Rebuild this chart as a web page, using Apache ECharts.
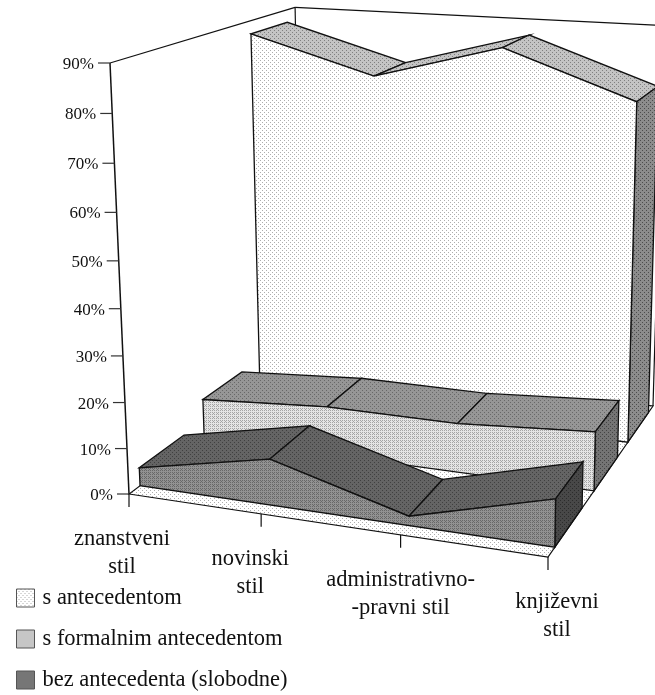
<!DOCTYPE html>
<html><head><meta charset="utf-8">
<style>html,body{margin:0;padding:0;background:#fff}#c{width:655px;height:695px}</style>
<script src="https://cdn.jsdelivr.net/npm/echarts@6/dist/echarts.min.js"></script>
</head><body><div id="c"></div>
<script>
var categories = ['znanstveni\nstil','novinski\nstil','administrativno-\n-pravni stil','književni\nstil'];
var valueTicks = [0,10,20,30,40,50,60,70,80,90];
var seriesNames = ['s antecedentom','s formalnim antecedentom','bez antecedenta (slobodne)'];
var antecedent = [87,79,87,77];
var formal = [9,11,11,13];
var free = [4,10,2,10];

// camera: screen positions of the plot box corners
var O=[129,494],A=[548,557],B=[110,63],C=[302,364],D=[653,406],E=[295,7];
var PIX=100;
function solveCam(){
  var a1=A[0]-D[0],b1=C[0]-D[0],c1=D[0]+O[0]-A[0]-C[0],a2=A[1]-D[1],b2=C[1]-D[1],c2=D[1]+O[1]-A[1]-C[1];
  var det=a1*b2-a2*b1, wa=(c1*b2-c2*b1)/det, wc=(a1*c2-a2*c1)/det;
  var rx=E[0]+O[0]-B[0]-C[0]-wc*(C[0]-E[0]), ry=E[1]+O[1]-B[1]-C[1]-wc*(C[1]-E[1]);
  var bx=B[0]-E[0], by=B[1]-E[1];
  var wb=(rx*bx+ry*by)/(bx*bx+by*by);
  return {wa:wa,wb:wb,wc:wc};
}
var cam=solveCam();
function proj(api,cat,val,z){
  var p=api.coord([cat,val]);
  var x=p[0]/PIX, y=(PIX-p[1])/PIX;
  var w=1+cam.wa*x+cam.wb*y+cam.wc*z;
  var fa=x*(1+cam.wa), fb=y*(1+cam.wb), fc=z*(1+cam.wc), f0=1-x-y-z;
  return [(f0*O[0]+fa*A[0]+fb*B[0]+fc*C[0])/w,(f0*O[1]+fa*A[1]+fb*B[1]+fc*C[1])/w];
}
function pat(bg,dot,size,cells){
  var c=document.createElement('canvas');c.width=c.height=size;
  var g=c.getContext('2d');g.fillStyle=bg;g.fillRect(0,0,size,size);g.fillStyle=dot;
  cells.forEach(function(k){g.fillRect(k[0],k[1],1,1);});
  return {image:c,repeat:'repeat'};
}
function P4(bg,dot){return pat(bg,dot,4,[[0,0],[2,2]]);}
function W4(bg,dot){return pat(bg,dot,4,[[0,0],[2,0],[0,2],[2,2],[1,1]]);}
function P2(bg,dot){return pat(bg,dot,2,[[0,0],[1,1]]);}
var fills=[
 {front:P4('#ffffff','#adadad'),top:P4('#c4c4c4','#808080'),side:P4('#8c8c8c','#4c4c4c')},
 {front:W4('#e4e4e4','#a4a4a4'),top:P4('#969696','#686868'),side:P4('#747474','#444444')},
 {front:W4('#929292','#686868'),top:P4('#646464','#404040'),side:P4('#484848','#2c2c2c')}
];
var legendFill=[P4('#ffffff','#adadad'),P2('#dcdcdc','#b0b0b0'),P2('#8c8c8c','#606060')];
var zRange=[[0.72,0.947],[0.387,0.613],[0.053,0.28]];
var LINE='#111';
function poly(pts,fill,lw){return {type:'polygon',shape:{points:pts},style:{fill:fill,stroke:LINE,lineWidth:lw||1}};}
function seg(a,b,col,lw){return {type:'line',shape:{x1:a[0],y1:a[1],x2:b[0],y2:b[1]},style:{stroke:col||LINE,lineWidth:lw||1}};}

function renderSeries(idx,vals){
  return function(params,api){
    if(params.dataIndex!==0) return null;
    var z0=zRange[idx][0],z1=zRange[idx][1],kids=[],f=fills[idx],n=vals.length,i;
    for(i=0;i<n-1;i++){
      kids.push(poly([proj(api,i,vals[i],z0),proj(api,i+1,vals[i+1],z0),proj(api,i+1,vals[i+1],z1),proj(api,i,vals[i],z1)],f.top,1.3));
    }
    kids.push(poly([proj(api,n-1,0,z0),proj(api,n-1,vals[n-1],z0),proj(api,n-1,vals[n-1],z1),proj(api,n-1,0,z1)],f.side,1.3));
    var fp=[proj(api,0,0,z0)];
    for(i=0;i<n;i++) fp.push(proj(api,i,vals[i],z0));
    fp.push(proj(api,n-1,0,z0));
    kids.push(poly(fp,f.front,1.3));
    return {type:'group',children:kids};
  };
}
var xLabelOffset=[[-7,31],[-11,31],[0,31],[9,31]];
function renderFrame(params,api){
  if(params.dataIndex!==0) return null;
  var last=categories.length-1,top=valueTicks[valueTicks.length-1],kids=[];
  kids.push(seg(proj(api,0,top,0),proj(api,0,top,1),LINE,1.2));
  kids.push(seg(proj(api,0,top,1),proj(api,last,top,1),LINE,1.2));
  kids.push(seg(proj(api,0,top,1),proj(api,0,0,1),LINE,1.2));
  kids.push(seg(proj(api,last,top,1),proj(api,last,0,1),LINE,1.2));
  kids.push(poly([proj(api,0,0,0),proj(api,last,0,0),proj(api,last,0,1),proj(api,0,0,1)],fills[0].front,1.2));
  kids.push(seg(proj(api,0,0,0),proj(api,0,top,0),LINE,1.5));
  valueTicks.forEach(function(t){
    var p=proj(api,0,t,0);
    kids.push(seg([p[0]-12,p[1]],p,'#333',1.2));
    kids.push({type:'text',style:{text:t+'%',x:p[0]-16,y:p[1]+1.5,align:'right',verticalAlign:'middle',font:'17px "Liberation Serif"',fill:'#111'}});
  });
  categories.forEach(function(c,i){
    var p=proj(api,i,0,0);
    kids.push(seg(p,[p[0],p[1]+13],LINE,1.2));
    kids.push({type:'text',style:{text:c,x:p[0]+xLabelOffset[i][0],y:p[1]+xLabelOffset[i][1],align:'center',verticalAlign:'top',font:'22.5px "Liberation Serif"',lineHeight:28,fill:'#111'}});
  });
  return {type:'group',children:kids};
}
function rows(vals){return vals.map(function(v,i){return [i,v];});}
var chart=echarts.init(document.getElementById('c'),null,{renderer:'canvas',width:655,height:695});
var seriesVals=[antecedent,formal,free];
var series=[{type:'custom',name:'frame',coordinateSystem:'cartesian2d',renderItem:renderFrame,data:rows(antecedent),silent:true,clip:false,z:1}];
seriesNames.forEach(function(nm,i){
  series.push({type:'custom',name:nm,coordinateSystem:'cartesian2d',renderItem:renderSeries(i,seriesVals[i]),data:rows(seriesVals[i]),
    encode:{x:0,y:1},clip:false,silent:true,z:2+i,itemStyle:{color:legendFill[i],borderColor:'#555',borderWidth:1}});
});
chart.setOption({
  animation:false,backgroundColor:'#fff',
  grid:{left:0,top:0,width:PIX,height:PIX,show:false},
  xAxis:{type:'category',data:categories,boundaryGap:false,show:false},
  yAxis:{type:'value',min:0,max:90,interval:10,show:false},
  legend:{data:seriesNames.map(function(n,i){return {name:n,icon:'rect',itemStyle:{color:legendFill[i],borderColor:'#555',borderWidth:1}};}),
    orient:'vertical',left:16,top:585,height:300,itemWidth:18,itemHeight:18,itemGap:15,selectedMode:false,padding:0,
    textStyle:{fontFamily:'Liberation Serif',fontSize:22.5,lineHeight:18,color:'#111',padding:[8,0,0,3]}},
  series:series
});
</script></body></html>
